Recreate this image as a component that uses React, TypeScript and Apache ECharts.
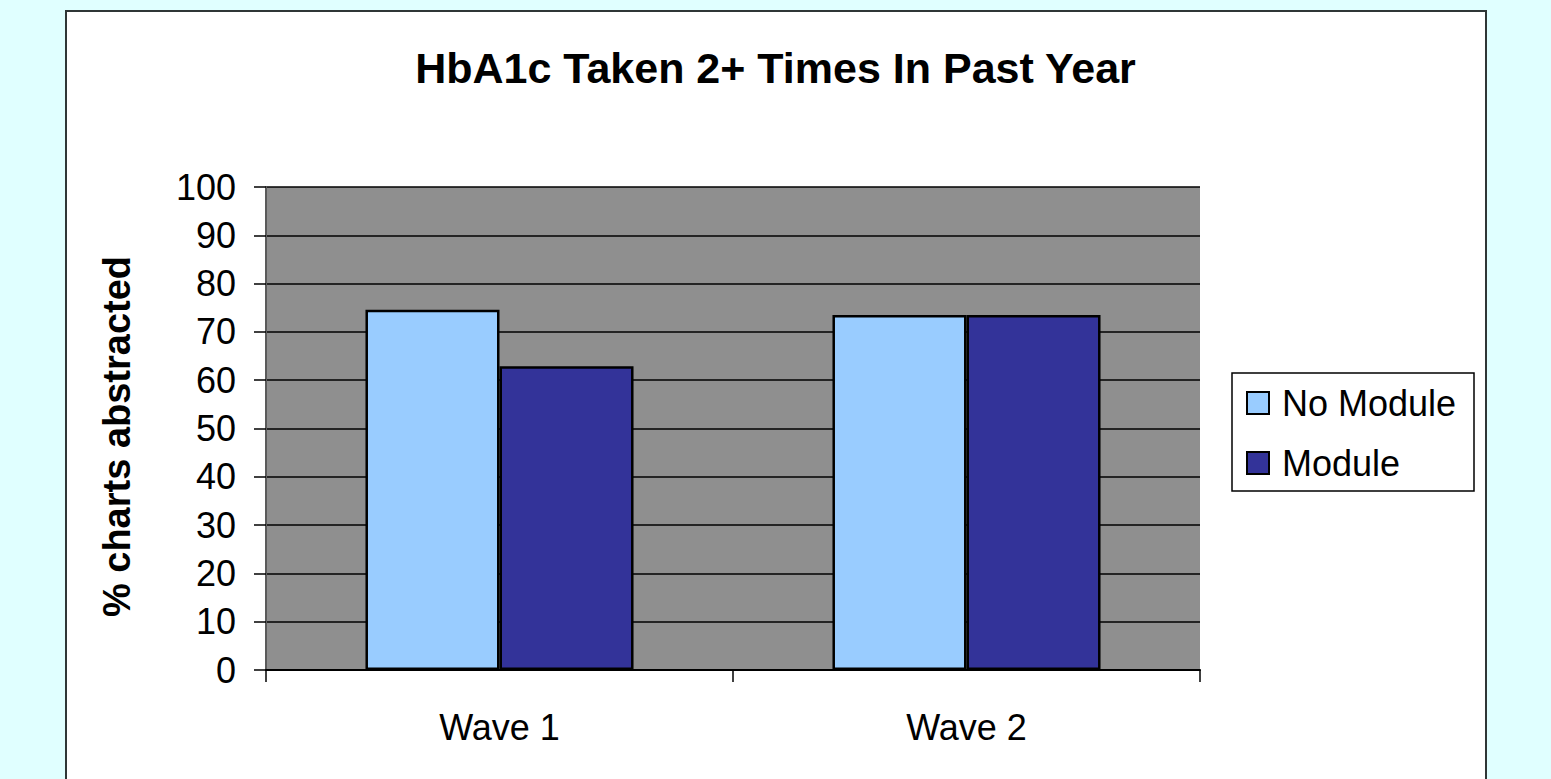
import React, { useEffect, useRef } from "react";
import * as echarts from "echarts";

const categories = ["Wave 1", "Wave 2"];
const noModule = [74.6, 73.5];
const module = [62.9, 73.5];
const seriesNames = ["No Module", "Module"];
const titleText = "HbA1c Taken 2+ Times In Past Year";
const yAxisName = "% charts abstracted";

const FONT = "'Liberation Sans', Arial, sans-serif";

export default function App() {
  const ref = useRef<HTMLDivElement>(null);
  useEffect(() => {
    if (!ref.current) return;
    const chart = echarts.init(ref.current, undefined, { renderer: "svg" });
    chart.setOption({
      animation: false,
      backgroundColor: "#E0FFFF",
      textStyle: { fontFamily: FONT },
      graphic: [
        {
          type: "rect",
          shape: { x: 66, y: 11, width: 1420, height: 800 },
          style: { fill: "#FFFFFF", stroke: "#2F3636", lineWidth: 2 },
          z: -10,
          silent: true,
        },
        {
          type: "rect",
          shape: { x: 1232, y: 373, width: 242, height: 118 },
          style: { fill: "#FFFFFF", stroke: "#000000", lineWidth: 1.5 },
          z: 1,
          silent: true,
        },
      ],
      title: {
        text: titleText,
        left: "center",
        top: 41,
        textStyle: { fontFamily: FONT, fontSize: 43, fontWeight: "bold", color: "#000" },
      },
      legend: {
        orient: "vertical",
        left: 1241,
        top: 385,
        padding: [0, 0, 0, 5],
        itemWidth: 22,
        itemHeight: 22,
        itemGap: 24,
        icon: "rect",
        z: 5,
        textStyle: { fontFamily: FONT, fontSize: 36, color: "#000", padding: [0, 0, 0, 8] },
        data: seriesNames,
      },
      grid: {
        left: 266,
        top: 187,
        width: 934,
        height: 483,
        show: true,
        backgroundColor: "#8F8F8F",
        borderWidth: 0,
      },
      xAxis: {
        type: "category",
        data: categories,
        axisLine: { show: true, lineStyle: { color: "#000", width: 2 } },
        axisTick: { show: true, length: 12, lineStyle: { color: "#000", width: 1.5 } },
        axisLabel: { fontFamily: FONT, fontSize: 36, color: "#000", margin: 39 },
      },
      yAxis: {
        type: "value",
        min: 0,
        max: 100,
        interval: 10,
        name: yAxisName,
        nameLocation: "middle",
        nameGap: 130,
        nameTextStyle: {
          fontFamily: FONT,
          fontSize: 38,
          fontWeight: "bold",
          color: "#000",
          padding: [0, 16, 0, 0],
        },
        axisLine: { show: true, lineStyle: { color: "#5A5A5A", width: 2 } },
        axisTick: { show: true, length: 12, lineStyle: { color: "#000", width: 1.5 } },
        axisLabel: { fontFamily: FONT, fontSize: 36, color: "#000", margin: 30 },
        splitLine: { show: true, lineStyle: { color: "#000", width: 1.5 } },
      },
      series: [
        {
          name: seriesNames[0],
          type: "bar",
          data: noModule,
          barGap: "0%",
          barCategoryGap: "42.6%",
          itemStyle: { color: "#99CCFF", borderColor: "#000", borderWidth: 2.5 },
        },
        {
          name: seriesNames[1],
          type: "bar",
          data: module,
          barGap: "0%",
          barCategoryGap: "42.6%",
          itemStyle: { color: "#333399", borderColor: "#000", borderWidth: 2.5 },
        },
      ],
    });
    return () => chart.dispose();
  }, []);
  return (
    <div
      ref={ref}
      style={{ position: "fixed", left: 0, top: 0, width: 1551, height: 779 }}
    />
  );
}
